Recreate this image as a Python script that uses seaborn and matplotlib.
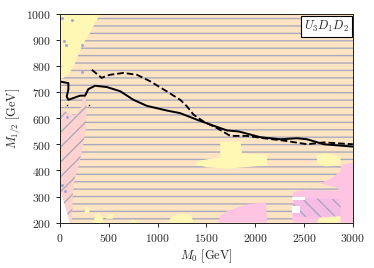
import numpy as np
import pandas as pd
import matplotlib
matplotlib.use("Agg")
import matplotlib.pyplot as plt
from matplotlib.patches import Polygon
from matplotlib.ticker import FuncFormatter, MultipleLocator
import seaborn as sns

# --- exclusion contours (M0, M1/2) in GeV ---
solid_m0 = [0, 85, 85, 68, 85, 137, 205, 256, 290, 359, 479, 616, 752, 889, 1095,
            1231, 1402, 1573, 1710, 1830, 2052, 2257, 2428, 2531, 2702, 3000]
solid_m12 = [740, 734, 709, 683, 670, 677, 686, 686, 711, 724, 719, 703, 670, 647, 629,
             619, 594, 571, 553, 549, 527, 519, 523, 519, 500, 491]

dashed_m0 = [325, 427, 462, 513, 650, 787, 923, 1095, 1231, 1300, 1368, 1470, 1607,
             1744, 1915, 2086, 2291, 2531, 2702, 3000]
dashed_m12 = [785, 754, 760, 766, 773, 766, 741, 702, 670, 645, 613, 587, 562,
              532, 532, 523, 514, 500, 507, 500]

dots_m0 = [68, 300]
dots_m12 = [651, 651]

# --- small blue spots ---
blue_m0 = [20, 120, 40, 60, 225, 225, 70, 20, 50]
blue_m12 = [985, 975, 895, 880, 880, 775, 605, 345, 320]

# --- coloured regions (polygon vertices, GeV) ---
yellow_tl = [(0, 1000), (410, 1000), (308, 927), (222, 875), (154, 811), (110, 780),
             (40, 755), (0, 750)]
pink_left = [(0, 630), (60, 625), (150, 610), (215, 640), (235, 680), (262, 690),
             (272, 640), (262, 560), (256, 540), (239, 502), (188, 414), (154, 375),
             (130, 310), (122, 200), (100, 200), (0, 330)]
white_bl = [(0, 330), (0, 200), (100, 200)]
yellow_mid = [(1641, 508), (1847, 512), (1864, 463), (2120, 461), (2120, 419), (1881, 412),
              (1710, 406), (1505, 412), (1385, 422), (1436, 438), (1641, 450)]
yellow_right = [(2633, 460), (2719, 466), (2873, 453), (2873, 421), (2719, 415), (2633, 427)]
yellow_bottom = [
    [(250, 238), (270, 262), (300, 255), (300, 235)],
    [(340, 200), (360, 225), (395, 240), (430, 225), (450, 200)],
    [(470, 215), (500, 233), (560, 230), (540, 215)],
    [(700, 200), (750, 212), (800, 200)],
    [(1100, 200), (1150, 225), (1250, 235), (1340, 228), (1370, 200)],
    [(2633, 200), (2650, 218), (2873, 225), (2873, 200)],
]
pink_mid = [(1620, 200), (1640, 225), (1700, 242), (1830, 260), (1950, 272),
            (2110, 278), (2120, 200)]
pink_right = [(3000, 430), (2930, 425), (2880, 418), (2870, 395), (2780, 370), (2667, 350),
              (2780, 340), (2860, 330), (2840, 322), (2600, 325), (2430, 322), (2385, 315),
              (2380, 200), (3000, 200)]
pink_hatched = [(2390, 296), (2600, 292), (2873, 290), (2873, 222), (2390, 222)]
white_br = [
    [(2377, 287), (2513, 287), (2513, 300), (2377, 300)],
    [(2377, 236), (2462, 236), (2462, 262), (2377, 262)],
]

# --- style ---
sns.set_style("ticks")
plt.rcParams["mathtext.fontset"] = "cm"
plt.rcParams["font.family"] = ["DejaVu Serif"]
plt.rcParams["hatch.linewidth"] = 1.1
plt.rcParams["axes.linewidth"] = 0.8

PEACH = "#ffe4c4"
LINE_GRAY = "#a8aabb"
YELLOW = "#fff8b4"
PINK_L = "#ffd2cf"
PINK_R = "#ffc4e2"
PINK_H = "#f6bce8"

fig = plt.figure(figsize=(374.4 / 89, 268.4 / 89), dpi=89)
ax = fig.add_axes([60 / 374, 45.3 / 268, 292.5 / 374, 208.7 / 268])

ax.fill_between([0, 3000], 200, 1000, facecolor=PEACH, edgecolor=LINE_GRAY,
                hatch="--", lw=0, zorder=0)

def region(pts, fc, hatch=None, z=1):
    ax.add_patch(Polygon(pts, closed=True, facecolor=fc, edgecolor=LINE_GRAY if hatch else fc,
                         hatch=hatch, lw=0, zorder=z))

region(yellow_tl, YELLOW)
region(pink_left, PINK_L, hatch="//")
region(white_bl, "white")
region(yellow_mid, YELLOW)
region(yellow_right, YELLOW)
region(pink_mid, PINK_R)
region(pink_right, PINK_R)
region(pink_hatched, PINK_H, hatch="\\\\")
for p in white_br:
    region(p, "white", z=2)
for p in yellow_bottom:
    region(p, YELLOW, z=2)

ax.scatter(blue_m0, blue_m12, s=6, color="#a4a8dc", lw=0, zorder=3)

solid = pd.DataFrame({"m0": solid_m0, "m12": solid_m12})
dashed = pd.DataFrame({"m0": dashed_m0, "m12": dashed_m12})
sns.lineplot(data=solid, x="m0", y="m12", sort=False, estimator=None, color="black",
             lw=1.6, ax=ax, zorder=5)
sns.lineplot(data=dashed, x="m0", y="m12", sort=False, estimator=None, color="black",
             lw=1.5, dashes=False, ax=ax, zorder=5, linestyle=(0, (3.6, 1.6)))
ax.scatter(dots_m0, dots_m12, s=1.5, color="black", lw=0, zorder=5)

ax.set_xlim(0, 3000)
ax.set_ylim(200, 1000)
ax.xaxis.set_major_locator(MultipleLocator(500))
ax.yaxis.set_major_locator(MultipleLocator(100))
fmt = FuncFormatter(lambda v, pos: f"${v:.0f}$")
ax.xaxis.set_major_formatter(fmt)
ax.yaxis.set_major_formatter(fmt)
ax.tick_params(labelsize=9.5, length=3.5, width=0.8, direction="out")
ax.set_xlabel(r"$M_0\ [\mathrm{GeV}]$", fontsize=10, labelpad=2)
ax.set_ylabel(r"$M_{1/2}\ [\mathrm{GeV}]$", fontsize=10, labelpad=3)
for s in ax.spines.values():
    s.set_visible(True)
    s.set_zorder(10)

ax.text(0.985, 0.975, r"$U_3D_1D_2$", transform=ax.transAxes, ha="right", va="top",
        fontsize=10, zorder=10,
        bbox=dict(boxstyle="square,pad=0.25", facecolor="white", edgecolor="black", lw=0.9))

fig.savefig("out.png", dpi=89)
